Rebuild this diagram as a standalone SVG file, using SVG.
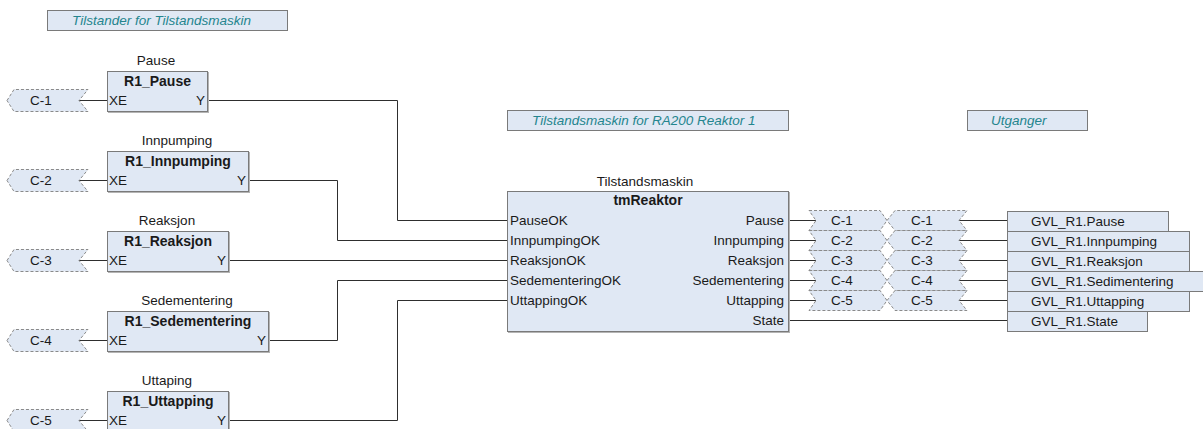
<svg xmlns="http://www.w3.org/2000/svg" width="1203" height="429" viewBox="0 0 1203 429">
  <style>
    text { font-family: "Liberation Sans", Arial, sans-serif; font-size: 13.5px; fill: #1a1a1a; }
    .comment-box { fill: #E0E8F4; stroke: #7a7a7a; stroke-width: 1; }
    .comment { font-style: italic; font-size: 13.5px; fill: #24858E; }
    .fb { fill: #E0E8F4; stroke: #7a7a7a; stroke-width: 1; }
    .fb-shadow { fill: none; stroke: #b4b4b4; stroke-width: 1; }
    .type { font-weight: bold; font-size: 14px; text-anchor: middle; }
    .inst { text-anchor: middle; }
    .rpin { text-anchor: end; }
    .conn { fill: #E0E8F4; stroke: #8a8a8a; stroke-width: 1; stroke-dasharray: 3 2; }
    .ctext { text-anchor: middle; }
    .var { fill: #E0E8F4; stroke: #7a7a7a; stroke-width: 1; }
    .wire { fill: none; stroke: #2e2e2e; stroke-width: 1; }
  </style>

  <!-- Comments -->
  <g id="comment-tilstander">
    <rect class="comment-box" x="47.5" y="10.5" width="240" height="20"/>
    <text class="comment" x="72" y="25">Tilstander for Tilstandsmaskin</text>
  </g>
  <g id="comment-tilstandsmaskin">
    <rect class="comment-box" x="507.5" y="110.5" width="281" height="20"/>
    <text class="comment" x="532" y="125">Tilstandsmaskin for RA200 Reaktor 1</text>
  </g>
  <g id="comment-utganger">
    <rect class="comment-box" x="967.5" y="110.5" width="120" height="20"/>
    <text class="comment" x="991" y="125">Utganger</text>
  </g>

  <!-- Connectors (wires) -->
  <g id="wires">
    <!-- XE inputs to left connector marks -->
    <path class="wire" d="M79 100.5H107"/>
    <path class="wire" d="M79 180.5H107"/>
    <path class="wire" d="M79 260.5H107"/>
    <path class="wire" d="M79 340.5H107"/>
    <path class="wire" d="M79 420.5H107"/>
    <!-- Y outputs to tmReaktor inputs -->
    <path class="wire" d="M207 100.5H397.5V220.5H507"/>
    <path class="wire" d="M248 180.5H337.5V240.5H507"/>
    <path class="wire" d="M228 260.5H507"/>
    <path class="wire" d="M268 340.5H337.5V280.5H507"/>
    <path class="wire" d="M228 420.5H397.5V300.5H507"/>
    <!-- tmReaktor outputs to connector marks -->
    <path class="wire" d="M788 220.5H816"/>
    <path class="wire" d="M788 240.5H816"/>
    <path class="wire" d="M788 260.5H816"/>
    <path class="wire" d="M788 280.5H816"/>
    <path class="wire" d="M788 300.5H816"/>
    <path class="wire" d="M788 320.5H1007"/>
    <!-- connector marks to global variables -->
    <path class="wire" d="M959 220.5H1007"/>
    <path class="wire" d="M959 240.5H1007"/>
    <path class="wire" d="M959 260.5H1007"/>
    <path class="wire" d="M959 280.5H1007"/>
    <path class="wire" d="M959 300.5H1007"/>
  </g>

  <!-- Left connector marks -->
  <g id="conn-left-1">
    <polygon class="conn" points="7,100.5 14,89.5 88,89.5 79,100.5 88,111.5 14,111.5"/>
    <text class="ctext" x="41" y="105">C-1</text>
  </g>
  <g id="conn-left-2">
    <polygon class="conn" points="7,180.5 14,169.5 88,169.5 79,180.5 88,191.5 14,191.5"/>
    <text class="ctext" x="41" y="185">C-2</text>
  </g>
  <g id="conn-left-3">
    <polygon class="conn" points="7,260.5 14,249.5 88,249.5 79,260.5 88,271.5 14,271.5"/>
    <text class="ctext" x="41" y="265">C-3</text>
  </g>
  <g id="conn-left-4">
    <polygon class="conn" points="7,340.5 14,329.5 88,329.5 79,340.5 88,351.5 14,351.5"/>
    <text class="ctext" x="41" y="345">C-4</text>
  </g>
  <g id="conn-left-5">
    <polygon class="conn" points="7,420.5 14,409.5 88,409.5 79,420.5 88,431.5 14,431.5"/>
    <text class="ctext" x="41" y="425">C-5</text>
  </g>

  <!-- Function blocks -->
  <g id="fb-pause">
    <text class="inst" x="156" y="65">Pause</text>
    <rect class="fb-shadow" x="108.5" y="72.5" width="100" height="40"/>
    <rect class="fb" x="107.5" y="71.5" width="100" height="40"/>
    <text class="type" x="157.5" y="86">R1_Pause</text>
    <text x="109" y="105">XE</text>
    <text class="rpin" x="205" y="105">Y</text>
  </g>
  <g id="fb-innpumping">
    <text class="inst" x="177" y="145">Innpumping</text>
    <rect class="fb-shadow" x="108.5" y="152.5" width="141" height="40"/>
    <rect class="fb" x="107.5" y="151.5" width="141" height="40"/>
    <text class="type" x="178" y="166">R1_Innpumping</text>
    <text x="109" y="185">XE</text>
    <text class="rpin" x="246" y="185">Y</text>
  </g>
  <g id="fb-reaksjon">
    <text class="inst" x="167" y="225">Reaksjon</text>
    <rect class="fb-shadow" x="108.5" y="232.5" width="121" height="40"/>
    <rect class="fb" x="107.5" y="231.5" width="121" height="40"/>
    <text class="type" x="168" y="246">R1_Reaksjon</text>
    <text x="109" y="265">XE</text>
    <text class="rpin" x="226" y="265">Y</text>
  </g>
  <g id="fb-sedementering">
    <text class="inst" x="187" y="305">Sedementering</text>
    <rect class="fb-shadow" x="108.5" y="312.5" width="161" height="40"/>
    <rect class="fb" x="107.5" y="311.5" width="161" height="40"/>
    <text class="type" x="188" y="326">R1_Sedementering</text>
    <text x="109" y="345">XE</text>
    <text class="rpin" x="266" y="345">Y</text>
  </g>
  <g id="fb-uttapping">
    <text class="inst" x="167" y="385">Uttaping</text>
    <rect class="fb-shadow" x="108.5" y="392.5" width="121" height="40"/>
    <rect class="fb" x="107.5" y="391.5" width="121" height="40"/>
    <text class="type" x="168" y="406">R1_Uttapping</text>
    <text x="109" y="425">XE</text>
    <text class="rpin" x="226" y="425">Y</text>
  </g>

  <!-- State machine block -->
  <g id="fb-tmreaktor">
    <text class="inst" x="645" y="186">Tilstandsmaskin</text>
    <rect class="fb-shadow" x="508.5" y="192.5" width="281" height="140"/>
    <rect class="fb" x="507.5" y="191.5" width="281" height="140"/>
    <text class="type" x="648" y="205">tmReaktor</text>
    <text x="510" y="225">PauseOK</text>
    <text x="510" y="245">InnpumpingOK</text>
    <text x="510" y="265">ReaksjonOK</text>
    <text x="510" y="285">SedementeringOK</text>
    <text x="510" y="305">UttappingOK</text>
    <text class="rpin" x="784" y="225">Pause</text>
    <text class="rpin" x="784" y="245">Innpumping</text>
    <text class="rpin" x="784" y="265">Reaksjon</text>
    <text class="rpin" x="784" y="285">Sedementering</text>
    <text class="rpin" x="784" y="305">Uttapping</text>
    <text class="rpin" x="784" y="325">State</text>
  </g>

  <!-- Right connector marks: outgoing -->
  <g id="conn-out-1">
    <polygon class="conn" points="809,210.5 880,210.5 887,220.5 880,230.5 809,230.5 816,220.5"/>
    <text class="ctext" x="842" y="225">C-1</text>
  </g>
  <g id="conn-out-2">
    <polygon class="conn" points="809,230.5 880,230.5 887,240.5 880,250.5 809,250.5 816,240.5"/>
    <text class="ctext" x="842" y="245">C-2</text>
  </g>
  <g id="conn-out-3">
    <polygon class="conn" points="809,250.5 880,250.5 887,260.5 880,270.5 809,270.5 816,260.5"/>
    <text class="ctext" x="842" y="265">C-3</text>
  </g>
  <g id="conn-out-4">
    <polygon class="conn" points="809,270.5 880,270.5 887,280.5 880,290.5 809,290.5 816,280.5"/>
    <text class="ctext" x="842" y="285">C-4</text>
  </g>
  <g id="conn-out-5">
    <polygon class="conn" points="809,290.5 880,290.5 887,300.5 880,310.5 809,310.5 816,300.5"/>
    <text class="ctext" x="842" y="305">C-5</text>
  </g>

  <!-- Right connector marks: incoming -->
  <g id="conn-in-1">
    <polygon class="conn" points="887,220.5 895,210.5 967,210.5 959,220.5 967,230.5 895,230.5"/>
    <text class="ctext" x="922" y="225">C-1</text>
  </g>
  <g id="conn-in-2">
    <polygon class="conn" points="887,240.5 895,230.5 967,230.5 959,240.5 967,250.5 895,250.5"/>
    <text class="ctext" x="922" y="245">C-2</text>
  </g>
  <g id="conn-in-3">
    <polygon class="conn" points="887,260.5 895,250.5 967,250.5 959,260.5 967,270.5 895,270.5"/>
    <text class="ctext" x="922" y="265">C-3</text>
  </g>
  <g id="conn-in-4">
    <polygon class="conn" points="887,280.5 895,270.5 967,270.5 959,280.5 967,290.5 895,290.5"/>
    <text class="ctext" x="922" y="285">C-4</text>
  </g>
  <g id="conn-in-5">
    <polygon class="conn" points="887,300.5 895,290.5 967,290.5 959,300.5 967,310.5 895,310.5"/>
    <text class="ctext" x="922" y="305">C-5</text>
  </g>

  <!-- Global variable outputs -->
  <g id="var-pause">
    <rect class="var" x="1007.5" y="211.5" width="161" height="20"/>
    <text x="1031" y="226">GVL_R1.Pause</text>
  </g>
  <g id="var-innpumping">
    <rect class="var" x="1007.5" y="231.5" width="182" height="20"/>
    <text x="1031" y="246">GVL_R1.Innpumping</text>
  </g>
  <g id="var-reaksjon">
    <rect class="var" x="1007.5" y="251.5" width="182" height="20"/>
    <text x="1031" y="266">GVL_R1.Reaksjon</text>
  </g>
  <g id="var-sedimentering">
    <rect class="var" x="1007.5" y="271.5" width="210" height="20"/>
    <text x="1031" y="286">GVL_R1.Sedimentering</text>
  </g>
  <g id="var-uttapping">
    <rect class="var" x="1007.5" y="291.5" width="182" height="20"/>
    <text x="1031" y="306">GVL_R1.Uttapping</text>
  </g>
  <g id="var-state">
    <rect class="var" x="1007.5" y="311.5" width="140" height="20"/>
    <text x="1031" y="326">GVL_R1.State</text>
  </g>
</svg>
